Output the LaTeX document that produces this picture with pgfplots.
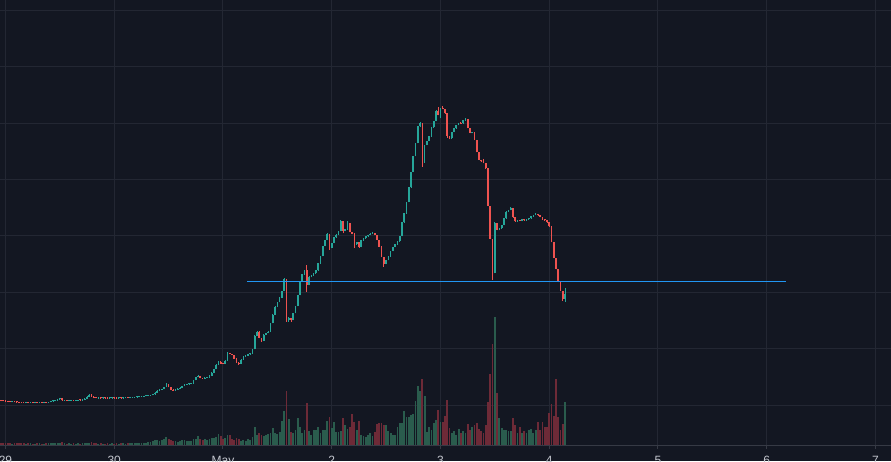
\documentclass[border=0pt]{standalone}
\usepackage{fontspec}
\setmainfont{Liberation Sans}
\usepackage{pgfplots}
\usepackage{pgfplotstable}
\pgfplotsset{compat=1.18}
\definecolor{bgc}{HTML}{131722}
\definecolor{gridc}{HTML}{232733}
\definecolor{sepc}{HTML}{363A45}
\definecolor{labc}{HTML}{C3C6CE}
\definecolor{upc}{HTML}{26A69A}
\definecolor{dnc}{HTML}{EF5350}
\definecolor{volup}{HTML}{2A5C4D}
\definecolor{voldn}{HTML}{6D2A37}
\definecolor{bluec}{HTML}{2196F3}
\pgfplotstableread{
i o h l c v
-2 60.6 61.0 59.9 60.3 1.2
-1 60.3 60.7 59.6 60.0 1.3
0 60.0 60.4 59.4 59.8 1.2
1 59.8 60.2 59.2 59.6 1.4
2 59.6 60.0 59.0 59.4 1.2
3 59.4 60.0 59.0 59.6 1.0
4 59.6 60.0 58.6 59.0 1.5
5 59.0 59.4 58.4 58.8 1.3
6 58.8 59.2 58.2 58.6 1.2
7 58.6 59.0 58.1 58.5 1.6
8 58.5 58.9 58.0 58.4 1.2
9 58.4 58.9 58.0 58.5 1.0
10 58.5 58.9 57.9 58.3 1.3
11 58.3 58.8 57.9 58.4 1.1
12 58.4 58.8 57.9 58.3 1.0
13 58.3 58.8 57.9 58.4 1.0
14 58.4 58.8 57.9 58.3 1.2
15 58.3 58.9 57.9 58.5 1.1
16 58.5 58.9 57.9 58.3 1.0
17 58.3 58.8 57.9 58.4 1.0
18 58.4 58.8 57.9 58.3 1.1
19 58.3 59.4 57.9 59.0 1.3
20 59.0 60.2 58.6 59.8 1.4
21 59.8 60.7 59.4 60.3 1.2
22 60.3 61.2 59.9 60.8 1.5
23 60.8 62.2 60.4 61.8 1.8
24 61.8 63.3 61.4 62.7 2.0
25 62.7 63.1 60.3 60.7 2.2
26 60.7 61.2 60.3 60.8 1.2
27 60.8 61.2 60.2 60.6 1.0
28 60.6 61.1 60.2 60.7 1.1
29 60.7 61.2 60.3 60.8 1.0
30 60.8 61.2 60.2 60.6 1.2
31 60.6 61.1 60.2 60.7 1.0
32 60.7 61.3 60.3 60.9 1.1
33 60.9 61.3 60.4 60.8 1.0
34 60.8 61.9 60.4 61.5 1.3
35 61.5 62.7 61.1 62.3 1.5
36 62.3 64.9 61.9 64.5 1.8
37 64.5 67.5 64.1 66.5 2.0
38 66.5 66.9 64.1 64.5 2.2
39 64.5 64.9 62.8 63.2 1.6
40 63.2 63.6 62.6 63.0 1.2
41 63.0 63.5 62.6 63.1 1.0
42 63.1 63.5 62.5 62.9 1.1
43 62.9 63.5 62.5 63.1 1.0
44 63.1 63.5 62.6 63.0 1.0
45 63.0 63.4 62.5 62.9 1.2
46 62.9 63.4 62.5 63.0 1.0
47 63.0 63.5 62.6 63.1 1.1
48 63.1 63.5 62.6 63.0 1.0
49 63.0 63.4 62.5 62.9 1.2
50 62.9 63.5 62.5 63.1 1.0
51 63.1 63.5 62.6 63.0 1.1
52 63.0 63.5 62.6 63.1 1.2
53 63.1 63.7 62.7 63.3 1.0
54 63.3 63.7 62.8 63.2 1.3
55 63.2 63.9 62.8 63.5 1.2
56 63.5 64.0 63.1 63.6 1.1
57 63.6 64.3 63.2 63.9 1.4
58 63.9 64.6 63.5 64.2 1.5
59 64.2 64.9 63.8 64.5 1.3
60 64.5 65.1 64.1 64.7 1.6
61 64.7 65.4 64.3 65.0 1.8
62 65.0 65.6 64.6 65.2 2.0
63 65.2 66.0 64.8 65.6 2.2
64 65.6 66.5 65.2 66.1 3.0
65 66.1 67.3 65.7 66.9 3.5
66 66.9 68.9 66.5 68.5 4.5
67 68.5 70.7 68.1 70.3 5.0
68 70.3 71.6 69.9 71.2 4.0
69 71.2 72.4 70.8 72.0 4.5
70 72.0 74.4 71.6 74.0 6.0
71 74.0 78.0 73.6 77.0 8.0
72 77.0 77.4 73.6 74.0 6.0
73 74.0 74.4 71.1 71.5 5.0
74 71.5 71.9 69.8 70.2 4.0
75 70.2 71.9 69.8 71.5 3.5
76 71.5 72.9 71.1 72.5 3.0
77 72.5 73.7 72.1 73.3 4.0
78 73.3 75.4 72.9 75.0 5.0
79 75.0 76.9 74.6 76.5 4.5
80 76.5 77.3 76.1 76.9 3.5
81 76.9 77.7 76.5 77.3 4.0
82 77.3 78.1 76.9 77.7 3.5
83 77.7 81.4 77.3 81.0 5.5
84 81.0 84.4 80.6 84.0 6.0
85 84.0 85.8 83.6 85.0 9.0
86 85.0 85.4 82.6 83.0 6.0
87 83.0 83.4 82.3 82.7 5.0
88 82.7 83.6 82.3 83.2 5.5
89 83.2 83.7 82.8 83.3 4.5
90 83.3 85.9 82.9 85.5 6.0
91 85.5 88.9 85.1 88.5 7.0
92 88.5 92.4 88.1 92.0 6.5
93 92.0 96.7 91.6 96.3 8.0
94 96.3 100.0 95.9 99.3 11.0
95 99.3 99.7 97.1 97.5 9.0
96 97.5 97.9 96.9 97.3 6.0
97 97.3 100.9 96.9 100.5 7.0
98 100.5 109.0 100.1 107.5 10.0
99 107.5 108.2 106.6 107.0 10.0
100 107.0 107.4 105.6 106.0 6.0
101 106.0 106.4 102.1 102.5 5.0
102 102.5 102.9 98.1 98.5 7.0
103 98.5 98.9 96.5 97.3 6.0
104 97.3 101.9 96.9 101.5 4.0
105 101.5 104.7 101.1 104.3 5.0
106 104.3 105.9 103.9 105.5 4.0
107 105.5 107.1 105.1 106.7 6.0
108 106.7 108.1 106.3 107.7 5.0
109 107.7 112.4 107.3 112.0 8.0
110 112.0 125.9 111.6 125.5 18.0
111 125.5 130.2 125.1 129.3 10.0
112 129.3 129.7 122.6 123.0 12.0
113 123.0 123.4 119.3 120.5 10.0
114 120.5 126.9 120.1 126.5 9.0
115 126.5 128.4 126.1 128.0 10.0
116 128.0 129.7 127.6 129.3 11.0
117 129.3 138.4 128.9 138.0 12.0
118 138.0 146.9 137.6 146.5 17.0
119 146.5 154.7 146.1 154.3 12.0
120 154.3 159.4 153.9 159.0 11.0
121 159.0 163.9 158.6 163.5 13.0
122 163.5 170.4 163.1 170.0 24.0
123 170.0 183.0 169.6 182.0 34.0
124 182.0 182.4 139.3 141.0 54.0
125 141.0 144.0 139.5 143.0 26.0
126 143.0 143.4 139.5 141.0 13.0
127 141.0 148.4 140.6 148.0 12.0
128 148.0 155.4 147.6 155.0 15.0
129 155.0 166.4 154.6 166.0 27.0
130 166.0 180.4 165.6 180.0 18.0
131 180.0 186.9 179.6 186.5 12.0
132 186.5 190.9 186.1 190.5 15.0
133 190.5 196.0 169.3 176.0 42.0
134 176.0 185.0 175.6 184.0 14.0
135 184.0 185.9 183.6 185.5 10.0
136 185.5 187.9 185.1 187.5 15.0
137 187.5 190.9 187.1 190.5 15.0
138 190.5 197.9 190.1 197.5 18.0
139 197.5 205.4 197.1 205.0 12.0
140 205.0 215.4 204.6 215.0 15.0
141 215.0 221.4 214.6 221.0 15.0
142 221.0 227.7 220.6 226.5 24.0
143 226.5 226.9 211.0 213.0 28.0
144 213.0 218.4 212.6 218.0 17.0
145 218.0 223.9 217.6 223.5 23.0
146 223.5 226.6 223.1 226.2 13.0
147 226.2 230.4 225.8 230.0 13.0
148 230.0 241.2 229.6 240.0 14.0
149 240.0 240.4 227.7 230.0 27.0
150 230.0 231.9 229.6 231.5 20.0
151 231.5 239.5 231.1 238.0 16.0
152 238.0 238.4 228.6 229.0 18.0
153 229.0 229.4 226.6 227.0 31.0
154 227.0 227.5 212.7 216.5 23.0
155 216.5 218.9 216.1 218.5 15.0
156 218.5 218.9 213.0 214.0 24.0
157 214.0 220.9 213.6 220.5 10.0
158 220.5 222.9 220.1 222.5 9.0
159 222.5 224.9 222.1 224.5 8.0
160 224.5 226.4 224.1 226.0 10.0
161 226.0 227.6 225.6 227.2 12.0
162 227.2 228.5 226.8 227.7 9.0
163 227.7 228.1 225.6 226.0 13.0
164 226.0 226.4 220.6 221.0 21.0
165 221.0 221.4 213.9 214.3 22.0
166 214.3 214.7 203.6 204.0 22.0
167 204.0 204.4 194.3 197.0 20.0
168 197.0 201.4 196.6 201.0 20.0
169 201.0 204.9 200.6 204.5 14.0
170 204.5 210.4 204.1 210.0 12.0
171 210.0 214.4 209.6 214.0 10.0
172 214.0 216.9 213.6 216.5 10.0
173 216.5 219.9 216.1 219.5 18.0
174 219.5 225.4 219.1 225.0 22.0
175 225.0 238.9 224.6 238.5 22.0
176 238.5 247.9 238.1 247.5 34.0
177 247.5 259.4 247.1 259.0 28.0
178 259.0 273.9 258.6 273.5 28.0
179 273.5 289.4 273.1 289.0 30.0
180 289.0 305.4 288.6 305.0 31.0
181 305.0 318.4 304.6 318.0 44.0
182 318.0 334.9 317.6 334.5 59.0
183 334.5 339.0 334.1 337.7 54.0
184 337.7 338.2 294.3 300.0 66.0
185 300.0 316.4 298.0 316.0 49.0
186 316.0 320.4 315.6 320.0 13.0
187 320.0 324.9 319.6 324.5 18.0
188 324.5 333.9 324.1 333.5 15.0
189 333.5 340.4 333.1 340.0 22.0
190 340.0 351.0 339.6 350.0 25.0
191 350.0 354.0 345.6 346.0 35.0
192 346.0 353.4 342.7 353.0 23.0
193 353.0 355.0 351.6 352.0 23.0
194 352.0 352.4 347.1 347.5 29.0
195 347.5 347.9 323.0 325.0 45.0
196 325.0 325.4 321.5 322.7 17.0
197 322.7 329.4 322.3 329.0 12.0
198 329.0 332.9 328.6 332.5 14.0
199 332.5 336.4 332.1 336.0 10.0
200 336.0 338.4 335.6 338.0 16.0
201 338.0 338.9 337.1 337.5 12.0
202 337.5 340.9 337.1 340.5 14.0
203 340.5 343.0 340.1 342.0 12.0
204 342.0 342.4 332.6 333.0 21.0
205 333.0 333.4 327.6 328.0 15.0
206 328.0 329.4 327.6 328.5 18.0
207 328.5 328.9 320.6 321.0 20.0
208 321.0 321.4 308.6 309.0 22.0
209 309.0 309.4 300.6 301.0 16.0
210 301.0 301.4 298.5 299.5 14.0
211 299.5 302.0 297.6 298.0 12.0
212 298.0 298.4 292.1 292.5 20.0
213 292.5 292.9 254.6 255.0 43.0
214 255.0 255.4 221.6 222.0 71.0
215 222.0 222.4 181.0 188.0 101.0
216 188.0 238.5 187.6 237.7 128.0
217 237.7 238.1 230.6 231.0 52.0
218 231.0 233.1 230.6 232.7 27.0
219 232.7 236.4 232.3 236.0 17.0
220 236.0 243.1 235.6 242.7 15.0
221 242.7 249.7 242.3 249.3 15.0
222 249.3 251.4 248.9 251.0 14.0
223 251.0 253.7 250.6 252.7 14.0
224 252.7 253.1 243.1 243.5 27.0
225 243.5 243.9 239.1 239.5 20.0
226 239.5 241.4 239.1 241.0 12.0
227 241.0 241.4 239.6 240.0 18.0
228 240.0 241.9 239.6 241.5 12.0
229 241.5 241.9 240.1 240.5 14.0
230 240.5 241.9 240.1 241.5 12.0
231 241.5 243.1 241.1 242.7 15.0
232 242.7 244.9 242.3 244.5 16.0
233 244.5 246.4 244.1 246.0 12.0
234 246.0 248.0 245.6 247.0 15.0
235 247.0 247.4 245.1 245.5 23.0
236 245.5 245.9 243.6 244.0 15.0
237 244.0 244.4 241.1 241.5 23.0
238 241.5 241.9 240.1 240.5 18.0
239 240.5 240.9 238.1 238.5 18.0
240 238.5 238.9 234.1 234.5 32.0
241 234.5 234.9 218.6 219.0 41.0
242 219.0 219.4 202.6 203.0 29.0
243 203.0 203.4 191.6 192.0 66.0
244 192.0 192.4 178.6 179.0 28.0
245 179.0 179.4 169.6 170.0 15.0
246 170.0 170.4 160.0 162.0 21.0
247 162.0 172.7 159.3 167.0 43.0
}\candles
\pgfplotsset{
  candle/.style n args={2}{draw=none, mark=none, forget plot,
    error bars/.cd, y dir=plus, y explicit, error mark=none,
    error bar style={draw=#1, line width=#2}},
  isup/.style={restrict expr to domain={\thisrow{c}-\thisrow{o}}{0:1000}},
  isdn/.style={restrict expr to domain={\thisrow{o}-\thisrow{c}}{0.0001:1000}},
}
\begin{document}
\begin{tikzpicture}
\fill[bgc] (0pt,-16pt) rectangle (891pt,445pt);
\begin{axis}[
  at={(0pt,0pt)}, anchor=south west,
  width=891pt, height=445pt, scale only axis,
  xmin=-2.428, xmax=390.86, ymin=16, ymax=461,
  axis background/.style={fill=bgc},
  axis line style={draw=none},
  major tick length=0pt,
  xtick={0,48,96,144,192,240,288,336,384},
  xticklabels={29,30,May,2,3,4,5,6,7},
  ytick={55.7,112.1,168.6,225.0,281.4,337.8,394.3,450.7},
  yticklabel=\empty,
  grid=major,
  grid style={draw=gridc, line width=1pt},
  xticklabel style={anchor=north, inner sep=0pt, yshift=-11pt,
    font=\fontsize{12}{14}\selectfont, text=labc},
  clip=false,
]
% volume
\addplot[isup, candle={volup}{1.8pt}]
  table[x=i, y expr=16.5, y error expr=\thisrow{v}] {\candles};
\addplot[isdn, candle={voldn}{1.8pt}]
  table[x=i, y expr=16.5, y error expr=\thisrow{v}] {\candles};
% separator and day ticks
\draw[sepc, line width=1pt] (axis cs:-2.428,16.0) -- (axis cs:390.86,16.0);
\pgfplotsinvokeforeach{0,48,96,144,192,240,288,336,384}{
  \draw[sepc, line width=1pt] (axis cs:#1,15.5) -- (axis cs:#1,12.5);
}
% wicks
\addplot[isup, candle={upc}{0.8pt}]
  table[x=i, y=l, y error expr=\thisrow{h}-\thisrow{l}] {\candles};
\addplot[isdn, candle={dnc}{0.8pt}]
  table[x=i, y=l, y error expr=\thisrow{h}-\thisrow{l}] {\candles};
% bodies
\addplot[isup, candle={upc}{1.7pt}]
  table[x=i, y=o, y error expr={max(\thisrow{c}-\thisrow{o},0.8)}] {\candles};
\addplot[isdn, candle={dnc}{1.7pt}]
  table[x=i, y=c, y error expr={max(\thisrow{o}-\thisrow{c},0.8)}] {\candles};
% horizontal line
\addplot[bluec, line width=1.2pt, forget plot] coordinates {(106.6,179.7) (344.4,179.7)};
\end{axis}
\pgfresetboundingbox
\path[use as bounding box] (0pt,-16pt) rectangle (891pt,445pt);
\end{tikzpicture}
\end{document}
